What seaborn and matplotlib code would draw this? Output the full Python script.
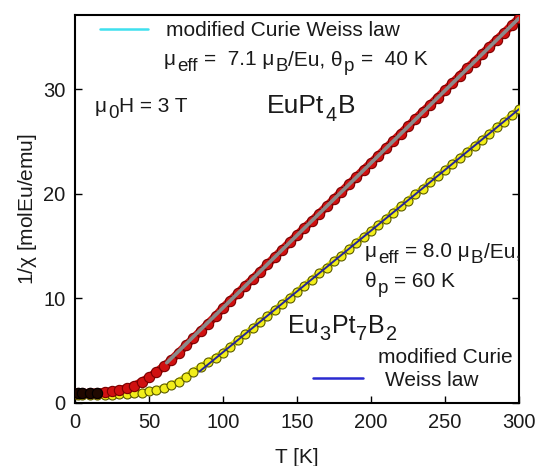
import numpy as np
import pandas as pd
import matplotlib
matplotlib.use("Agg")
import matplotlib.pyplot as plt
import seaborn as sns
from matplotlib.lines import Line2D
from matplotlib.transforms import offset_copy, Affine2D

# ---- data ----
T = [2, 5, 10, 15, 20, 25, 30, 35, 40, 45, 50, 55, 60, 65, 70, 75, 80, 85, 90, 95,
     100, 105, 110, 115, 120, 125, 130, 135, 140, 145, 150, 155, 160, 165, 170, 175,
     180, 185, 190, 195, 200, 205, 210, 215, 220, 225, 230, 235, 240, 245, 250, 255,
     260, 265, 270, 275, 280, 285, 290, 295, 300]
inv_chi_EuPt4B = [0.95, 0.95, 0.95, 1.0, 1.05, 1.1, 1.25, 1.4, 1.65, 2.0, 2.45, 2.95,
                  3.5, 4.1, 4.8, 5.5, 6.2, 6.9, 7.6, 8.3, 9.1, 9.8, 10.5, 11.2, 11.85,
                  12.55, 13.25, 13.95, 14.65, 15.35, 16.05, 16.75, 17.4, 18.1, 18.8,
                  19.5, 20.2, 20.9, 21.6, 22.3, 22.95, 23.65, 24.35, 25.05, 25.75,
                  26.45, 27.15, 27.85, 28.5, 29.2, 29.9, 30.6, 31.3, 32.0, 32.65,
                  33.35, 34.05, 34.75, 35.4, 36.1, 36.8]
inv_chi_Eu3Pt7B2 = [0.8, 0.8, 0.75, 0.75, 0.75, 0.8, 0.85, 0.9, 0.95, 1.0, 1.1, 1.25,
                    1.45, 1.7, 2.05, 2.5, 3.0, 3.45, 3.9, 4.35, 4.8, 5.4, 6.0, 6.55,
                    7.15, 7.7, 8.3, 8.9, 9.45, 10.05, 10.65, 11.2, 11.8, 12.4, 12.95,
                    13.55, 14.1, 14.7, 15.3, 15.85, 16.45, 17.05, 17.6, 18.2, 18.8,
                    19.35, 19.95, 20.5, 21.1, 21.7, 22.25, 22.85, 23.45, 24.0, 24.6,
                    25.15, 25.75, 26.35, 26.9, 27.5, 28.1]
fit_T_EuPt4B = [62, 300]
fit_EuPt4B = [3.85, 36.8]
fit_T_Eu3Pt7B2 = [84, 300]
fit_Eu3Pt7B2 = [3.0, 28.1]
x_ticks = [0, 50, 100, 150, 200, 250, 300]
y_ticks = [0, 10, 20, 30]

df = pd.DataFrame({"T": T, "EuPt4B": inv_chi_EuPt4B, "Eu3Pt7B2": inv_chi_Eu3Pt7B2})
fit1 = pd.DataFrame({"T": fit_T_EuPt4B, "v": fit_EuPt4B})
fit2 = pd.DataFrame({"T": fit_T_Eu3Pt7B2, "v": fit_Eu3Pt7B2})

sns.set_style("ticks")
plt.rcParams["font.family"] = ["Liberation Sans", "DejaVu Sans"]
plt.rcParams["mathtext.fontset"] = "custom"
plt.rcParams["mathtext.rm"] = "Liberation Sans"
plt.rcParams["mathtext.it"] = "Liberation Sans"
plt.rcParams["mathtext.bf"] = "Liberation Sans:bold"

W, H = 537, 466
fig = plt.figure(figsize=(W / 100, H / 100), dpi=100)
ax = fig.add_axes([75 / W, 63 / H, 444 / W, 388 / H])
TXT = "#1a1a1a"

red_face = "#d01010"
red_edge = "#7a0000"
yel_face = "#f2ee1a"
yel_edge = "#5a5a00"

# bands under markers
sns.lineplot(data=df, x="T", y="EuPt4B", ax=ax, color=red_face, lw=6, zorder=2, sort=False)
sns.lineplot(data=df, x="T", y="Eu3Pt7B2", ax=ax, color=yel_face, lw=5, zorder=2, sort=False)
# markers
sns.scatterplot(data=df, x="T", y="Eu3Pt7B2", ax=ax, color=yel_face, edgecolor=yel_edge,
                s=42, linewidth=0.8, zorder=3)
sns.scatterplot(data=df, x="T", y="EuPt4B", ax=ax, color=red_face, edgecolor=red_edge,
                s=55, linewidth=0.8, zorder=4)
low = df[df["T"] <= 15]
sns.scatterplot(data=low, x="T", y="EuPt4B", ax=ax, color="#200800", edgecolor="#000000",
                s=55, linewidth=0.8, zorder=5)
# fits
sns.lineplot(data=fit1, x="T", y="v", ax=ax, color="#8a8a8a", lw=2.6, zorder=6)
sns.lineplot(data=fit2, x="T", y="v", ax=ax, color="#25259a", lw=1.4, zorder=6)

ax.set_xlim(0, 300)
ax.set_ylim(0, 37.1)
ax.set_xticks(x_ticks)
ax.set_yticks(y_ticks)
ax.tick_params(direction="in", length=5, width=1, labelsize=14.5, colors="black",
               labelcolor=TXT, right=True, top=False, pad=7)
for s in ax.spines.values():
    s.set_linewidth(1.5)
    s.set_color("black")
ax.set_xlabel("T [K]", fontsize=15, labelpad=12, color=TXT)
ax.set_ylabel(r"1/$\chi$ [molEu/emu]", fontsize=15, labelpad=3, color=TXT)

renderer = fig.canvas.get_renderer()
pix = Affine2D().scale(1.0 / W, -1.0 / H).translate(0, 1) + fig.transFigure


def rich(x_px, ybase_px, parts, size, sub_scale=0.9, drop=0.28):
    """Draw text pieces with large subscripts, starting at pixel x, baseline y."""
    xoff = 0.0
    space = 0.278 * size
    for txt, sub in parts:
        fs = size * sub_scale if sub else size
        lead = len(txt) - len(txt.lstrip(" "))
        trail = len(txt) - len(txt.rstrip(" "))
        xoff += lead * space
        core = txt.strip(" ")
        dy = -drop * size if sub else 0.0
        tr = offset_copy(pix, fig=fig, x=xoff, y=dy, units="points")
        t = fig.text(x_px, ybase_px, core, transform=tr, fontsize=fs,
                     va="baseline", ha="left", color=TXT)
        bb = t.get_window_extent(renderer)
        xoff += bb.width * 72.0 / fig.dpi + trail * space + 0.04 * size


fs = 15
# top legend
h1 = Line2D([], [], color="#3fe0ee", lw=1.8)
leg1 = fig.legend([h1], ["modified Curie Weiss law"], loc="center left",
                  bbox_to_anchor=(100, 31), bbox_transform=pix, frameon=False,
                  fontsize=fs, handlelength=2.3, handletextpad=0.85, borderpad=0,
                  borderaxespad=0)
for t in leg1.get_texts():
    t.set_color(TXT)
rich(164, 65, [("μ", 0), ("eff", 1), (" =  7.1 μ", 0), ("B", 1), ("/Eu, θ", 0), ("p", 1),
               (" =  40 K", 0)], fs)
rich(95, 112, [("μ", 0), ("0", 1), ("H = 3 T", 0)], fs)
rich(267, 113, [("EuPt", 0), ("4", 1), ("B", 0)], 19, sub_scale=0.75, drop=0.32)
rich(365, 257, [("μ", 0), ("eff", 1), (" = 8.0 μ", 0), ("B", 1), ("/Eu,", 0)], fs)
rich(365, 287, [("θ", 0), ("p", 1), (" = 60 K", 0)], fs)
rich(288, 333, [("Eu", 0), ("3", 1), ("Pt", 0), ("7", 1), ("B", 0), ("2", 1)], 18,
     sub_scale=0.8, drop=0.3)
rich(378, 363, [("modified Curie", 0)], fs)
# bottom legend
h2 = Line2D([], [], color="#2a2ad0", lw=1.8)
leg2 = fig.legend([h2], ["Weiss law"], loc="center left",
                  bbox_to_anchor=(313, 380), bbox_transform=pix, frameon=False,
                  fontsize=fs, handlelength=2.4, handletextpad=1.05, borderpad=0,
                  borderaxespad=0)
for t in leg2.get_texts():
    t.set_color(TXT)

fig.savefig("out.png", dpi=100)
